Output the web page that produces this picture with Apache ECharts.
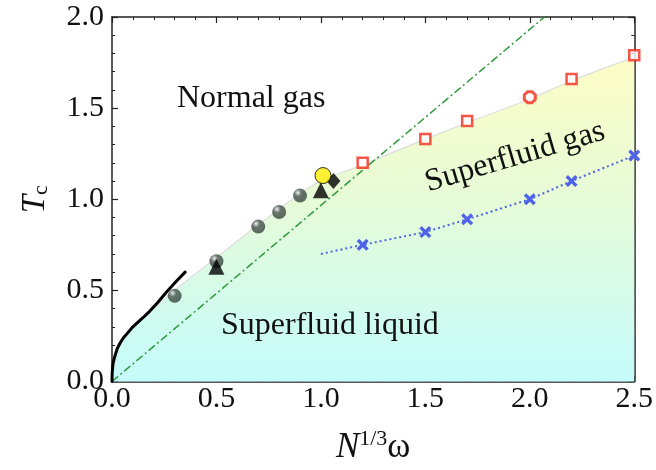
<!DOCTYPE html>
<html>
<head>
<meta charset="utf-8">
<script src="https://cdn.jsdelivr.net/npm/echarts@6/dist/echarts.min.js"></script>
<style>
  html, body { margin: 0; padding: 0; background: #fff; }
  #chart { width: 656px; height: 470px; }
</style>
</head>
<body>
<div id="chart"></div>
<script>
// boundary of the superfluid region (shaded)
var boundary = [[0, 0], [0.01, 0.12], [0.04, 0.2], [0.1, 0.3], [0.2, 0.4], [0.3, 0.5], [0.5, 0.68], [0.7, 0.86], [0.9, 1.03], [1.0, 1.1], [1.2, 1.19], [1.5, 1.33], [1.7, 1.42], [2.0, 1.55], [2.2, 1.65], [2.5, 1.78]];
// black solid curve at small N^{1/3}w
var blackCurve = [[0, 0], [0.001, 0.05], [0.005, 0.1], [0.014, 0.14], [0.025, 0.18], [0.038, 0.21], [0.055, 0.24], [0.07, 0.26], [0.1, 0.3], [0.148, 0.35], [0.18, 0.385], [0.22, 0.435], [0.26, 0.49], [0.3, 0.54], [0.35, 0.6]];
// green dash-dot line
var greenLine = [[0, 0], [2.07, 2.0]];
// gray spheres
var spheres = [[0.3, 0.47], [0.5, 0.66], [0.7, 0.85], [0.8, 0.93], [0.9, 1.02]];
var triangles = [[0.5, 0.63], [1.0, 1.05]];
var yellowDot = [[1.01, 1.13]];
var diamond = [[1.06, 1.1]];
var redSquares = [[1.2, 1.2], [1.5, 1.33], [1.7, 1.43], [2.2, 1.66], [2.5, 1.79]];
var redOctagon = [[2.0, 1.56]];
var blueLine = [[1.0, 0.7], [1.2, 0.75], [1.5, 0.82], [1.7, 0.89], [2.0, 1.0], [2.2, 1.1], [2.5, 1.24]];

var serif = '"Liberation Serif", "Times New Roman", "DejaVu Serif", serif';
var myChart = echarts.init(document.getElementById('chart'));

function frameAxis(pos, isX, show) {
  return {
    type: 'value',
    position: pos,
    min: 0,
    max: isX ? 2.5 : 2.0,
    interval: 0.5,
    splitLine: { show: false },
    axisLine: { show: true, onZero: false, lineStyle: { color: '#222', width: 1.5 } },
    axisTick: { show: true, inside: true, length: 6, lineStyle: { color: '#222', width: 1.2 } },
    minorTick: { show: true, splitNumber: 5, length: 3, lineStyle: { color: '#222', width: 1 } },
    axisLabel: {
      show: show,
      fontFamily: serif,
      fontSize: 30,
      color: '#111',
      margin: isX ? 3 : 8,
      formatter: function (v) { return v.toFixed(1); }
    }
  };
}

var xMain = frameAxis('bottom', true, true);
xMain.name = '{i|N}{sup|1/3}{n|ω}';
xMain.nameLocation = 'middle';
xMain.nameGap = 47;
xMain.nameTextStyle = {
  rich: {
    i: { fontFamily: serif, fontStyle: 'italic', fontSize: 35, color: '#111' },
    sup: { fontFamily: serif, fontSize: 22, color: '#111', padding: [0, 0, 16, 0] },
    n: { fontFamily: serif, fontSize: 35, color: '#111' }
  }
};
var yMain = frameAxis('left', false, true);
yMain.name = '{i|T}{sub|c}';
yMain.nameLocation = 'middle';
yMain.nameGap = 60;
yMain.nameRotate = 90;
yMain.nameTextStyle = {
  rich: {
    i: { fontFamily: serif, fontStyle: 'italic', fontSize: 33, color: '#111' },
    sub: { fontFamily: serif, fontSize: 22, color: '#111', padding: [12, 0, 0, 0] }
  }
};

var sphereColor = new echarts.graphic.RadialGradient(0.35, 0.3, 0.75, [
  { offset: 0, color: '#ffffff' },
  { offset: 0.1, color: '#b8bdba' },
  { offset: 0.35, color: '#46534c' },
  { offset: 1, color: '#34433b' }
]);

var labelStyle = { fontFamily: serif, fontSize: 32, fill: '#111', verticalAlign: 'middle' };

myChart.setOption({
  animation: false,
  textStyle: { fontFamily: serif },
  grid: { left: 112, right: 18, top: 17, bottom: 84 },
  xAxis: [xMain, frameAxis('top', true, false)],
  yAxis: [yMain, frameAxis('right', false, false)],
  graphic: [
    { type: 'text', z: 100, x: 177, y: 99, style: Object.assign({ text: 'Normal gas' }, labelStyle) },
    { type: 'text', z: 100, x: 221, y: 326, style: Object.assign({ text: 'Superfluid liquid' }, labelStyle) },
    {
      type: 'text', z: 100, x: 515, y: 157, rotation: 16.5 * Math.PI / 180,
      style: Object.assign({ text: 'Superfluid gas', align: 'center' }, labelStyle)
    }
  ],
  series: [
    {
      type: 'line', data: boundary, smooth: 0.3, showSymbol: false, z: 1,
      lineStyle: { color: '#dedede', width: 1.2 },
      areaStyle: {
        opacity: 1,
        color: new echarts.graphic.LinearGradient(0, 0, 0, 1, [
          { offset: 0, color: '#fdfdc6' },
          { offset: 0.45, color: '#e6fbd8' },
          { offset: 1, color: '#c4fbfb' }
        ])
      }
    },
    {
      type: 'line', data: greenLine, showSymbol: false, z: 2,
      lineStyle: { color: '#2f9a3c', width: 1.5, type: [8, 3, 2, 3] }
    },
    {
      type: 'line', data: blackCurve, showSymbol: false, z: 3,
      lineStyle: { color: '#000', width: 3, join: 'round', cap: 'round' }
    },
    {
      type: 'line', z: 3,
      data: blueLine.map(function (p, i) { return i === 0 ? { value: p, symbol: 'none' } : p; }),
      symbol: 'path://M2,0L5,3L8,0L10,2L7,5L10,8L8,10L5,7L2,10L0,8L3,5L0,2Z',
      symbolSize: 12,
      lineStyle: { color: '#4f63e8', width: 2, type: [2, 3] },
      itemStyle: { color: '#4f63e8' }
    },
    {
      type: 'scatter', data: spheres, symbol: 'circle', symbolSize: 14, z: 4,
      itemStyle: { color: sphereColor }
    },
    {
      type: 'scatter', data: triangles, symbol: 'triangle', symbolSize: 16, z: 5,
      itemStyle: { color: '#000' }
    },
    {
      type: 'scatter', data: diamond, symbol: 'diamond', symbolSize: [14, 16], z: 5,
      itemStyle: { color: '#000' }
    },
    {
      type: 'scatter', data: yellowDot, symbol: 'circle', symbolSize: 16, z: 6,
      itemStyle: { color: '#ffee00', borderColor: '#000', borderWidth: 1 }
    },
    {
      type: 'scatter', data: redSquares, symbol: 'rect', symbolSize: 10, z: 5,
      itemStyle: { color: '#fff', borderColor: '#f52a1a', borderWidth: 2.5 }
    },
    {
      type: 'scatter', data: redOctagon, symbol: 'path://M3,0L7,0L10,3L10,7L7,10L3,10L0,7L0,3Z', symbolSize: 11, z: 5,
      itemStyle: { color: '#fff', borderColor: '#f52a1a', borderWidth: 3 }
    }
  ]
});
</script>
</body>
</html>
